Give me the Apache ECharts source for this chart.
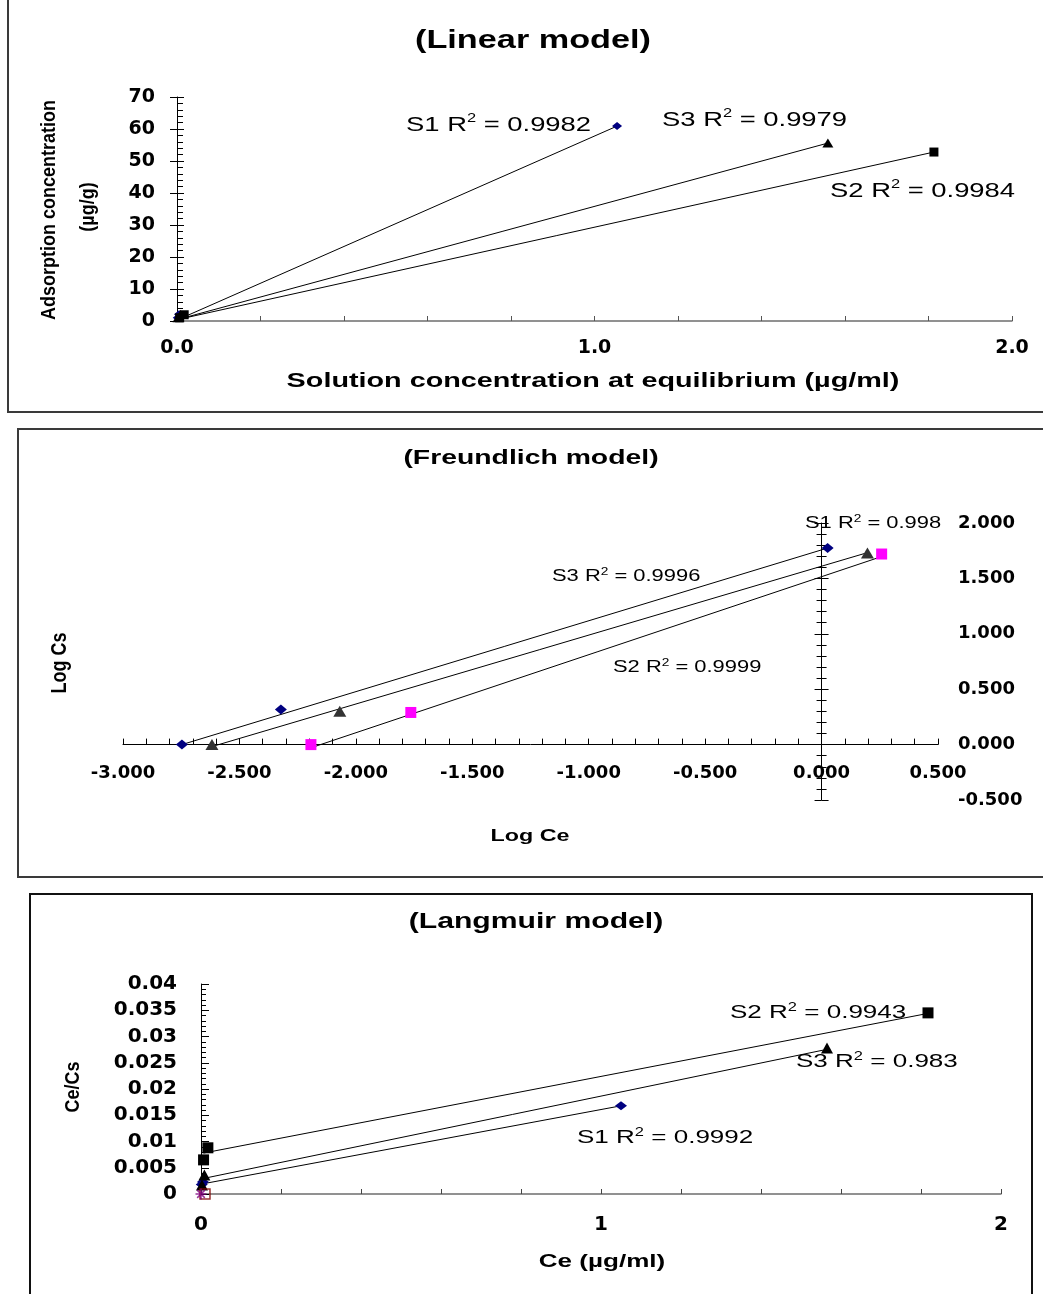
<!DOCTYPE html>
<html>
<head>
<meta charset="utf-8">
<script src="https://cdn.jsdelivr.net/npm/echarts@6/dist/echarts.min.js"></script>
<style>
  html, body { margin: 0; padding: 0; background: #fff; }
  #chart { width: 1043px; height: 1294px; }
</style>
</head>
<body>
<div id="chart"></div>
<script>
// Linear model: Ce (µg/ml) against adsorbed Cs (µg/g)
const linS1Ce = [0.0018, 0.0048, 1.054];
const linS1Cs = [1.0, 2.1, 60.9];
const linS2Ce = [0.0064, 0.0172, 1.813];
const linS2Cs = [1.0, 1.95, 52.8];
const linS3Ce = [0.0024, 0.0085, 1.559];
const linS3Cs = [1.0, 2.0, 55.6];
// trendline ends
const linS1Trend = [[0.0018, 0.4], [1.054, 60.9]];
const linS2Trend = [[0.0064, 0.6], [1.813, 52.8]];
const linS3Trend = [[0.0024, 0.5], [1.559, 55.6]];

// Freundlich model: log Ce against log Cs
const frS1LogCe = [-2.747, -2.322, 0.026];
const frS1LogCs = [0.0, 0.317, 1.774];
const frS2LogCe = [-2.193, -1.764, 0.258];
const frS2LogCs = [0.0, 0.29, 1.72];
const frS3LogCe = [-2.618, -2.069, 0.197];
const frS3LogCs = [0.0, 0.30, 1.73];
const frS1Trend = [[-2.747, 0.0], [0.026, 1.774]];
const frS2Trend = [[-2.19, -0.027], [0.262, 1.70]];
const frS3Trend = [[-2.618, -0.018], [0.193, 1.73]];

// Langmuir model: Ce against Ce/Cs
const lgS1Ce = [0.0018, 0.0048, 1.05];
const lgS1Ratio = [0.0018, 0.0023, 0.0168];
const lgS2Ce = [0.0064, 0.0172, 1.8175];
const lgS2Ratio = [0.0065, 0.0088, 0.0345];
const lgS3Ce = [0.0024, 0.0085, 1.565];
const lgS3Ratio = [0.0017, 0.0036, 0.0278];
const lgS1Trend = [[0.0018, 0.0019], [1.05, 0.0168]];
const lgS2Trend = [[0.0064, 0.0078], [1.8175, 0.0344]];
const lgS3Trend = [[0.0024, 0.0029], [1.555, 0.0274]];
const lgStray1 = [[0, 0]];
const lgStray2 = [[0.01, 0]];

// R² annotations
const linR2 = ['0.9982', '0.9984', '0.9979'];
const frR2 = ['0.998', '0.9999', '0.9996'];
const lgR2 = ['0.9992', '0.9943', '0.983'];

// axis ranges
const frX = { min: -3, max: 0.5 };
const frY = { min: -0.5, max: 2 };

const NAVY = '#000080';
const TXT = 'Liberation Sans';
const W = 1043;

// Freundlich grid, axes cross at (0, 0) inside it
const frGrid = { left: 123, right: 105, top: 523, height: 277 };
const frWidth = W - frGrid.left - frGrid.right;
const frYAxisShift = -(0 - frX.min) / (frX.max - frX.min) * frWidth;
const frXAxisShift = -(0 - frY.min) / (frY.max - frY.min) * frGrid.height;

const pts = (xs, ys) => xs.map((x, i) => [x, ys[i]]);

function scatter(name, data, xi, yi, symbol, size, color) {
    return {
        name, type: 'scatter', xAxisIndex: xi, yAxisIndex: yi, data,
        symbol, symbolSize: size, clip: false, z: 3,
        itemStyle: { color, opacity: 1 }
    };
}

function trend(name, data, xi, yi) {
    return {
        name, type: 'line', xAxisIndex: xi, yAxisIndex: yi, data,
        symbol: 'none', z: 2, silent: true,
        lineStyle: { color: '#000', width: 1 }
    };
}

function tickFont(size) {
    return { fontFamily: 'DejaVu Sans', fontWeight: 'bold', fontSize: size, color: '#000' };
}

const whole = (digits) => (v) => Math.abs(v - Math.round(v)) < 1e-6 ? Math.round(v).toFixed(digits) : '';

// text drawn the way the original (horizontally stretched) picture shows it
function text(str, x, y, size, opts) {
    opts = opts || {};
    return {
        type: 'text', x, y,
        rotation: opts.rotation || 0,
        scaleX: opts.scaleX || 1,
        scaleY: opts.scaleY || 1,
        silent: true,
        style: {
            text: str,
            fill: '#000',
            fontFamily: TXT,
            fontSize: size,
            fontWeight: opts.weight || 'normal',
            align: opts.align || 'center',
            verticalAlign: 'middle',
            lineHeight: Math.round(size * 1.2),
            rich: {
                sup: {
                    fontFamily: TXT, fontSize: Math.round(size * 0.62),
                    lineHeight: Math.round(size * 0.62), verticalAlign: 'top'
                }
            }
        }
    };
}

function r2(series, value, x, y, size) {
    return text(series + ' R{sup|2} = ' + value, x, y, size, { align: 'left', scaleX: 1.37 });
}

function frame(x, y, w, h, color) {
    return {
        type: 'rect', silent: true, z: -1,
        shape: { x, y, width: w, height: h },
        style: { fill: 'none', stroke: color, lineWidth: 2 }
    };
}

const chart = echarts.init(document.getElementById('chart'), null, { renderer: 'canvas' });

const noSplit = { show: false };

chart.setOption({
    animation: false,
    backgroundColor: '#fff',
    grid: [
        { left: 177, right: 31, top: 97, height: 224, outerBoundsMode: 'none' },
        Object.assign({ outerBoundsMode: 'none' }, frGrid),
        { left: 201, right: 42, top: 984, height: 210, outerBoundsMode: 'none' }
    ],
    xAxis: [
        {
            gridIndex: 0, type: 'value', min: 0, max: 2, interval: 0.2,
            axisLine: { show: true, onZero: false, lineStyle: { color: '#6e6e6e', width: 1.5 } },
            axisTick: { show: true, inside: true, length: 5, lineStyle: { color: '#555' } },
            axisLabel: Object.assign({ margin: 18, formatter: whole(1), showMinLabel: true, showMaxLabel: true, hideOverlap: false }, tickFont(19)),
            splitLine: noSplit
        },
        {
            gridIndex: 1, type: 'value', min: frX.min, max: frX.max, interval: 0.5,
            position: 'bottom', offset: frXAxisShift,
            axisLine: { show: true, onZero: false, lineStyle: { color: '#000', width: 1 } },
            axisTick: { show: true, inside: true, length: 6, lineStyle: { color: '#000' } },
            minorTick: { show: true, splitNumber: 5, length: 6, lineStyle: { color: '#000' } },
            axisLabel: Object.assign({ margin: 20, formatter: (v) => v.toFixed(3), showMinLabel: true, showMaxLabel: true, hideOverlap: false }, tickFont(18)),
            splitLine: noSplit
        },
        {
            gridIndex: 2, type: 'value', min: 0, max: 2, interval: 0.2,
            axisLine: { show: true, onZero: false, lineStyle: { color: '#6e6e6e', width: 1.5 } },
            axisTick: { show: true, inside: true, length: 5, lineStyle: { color: '#444' } },
            axisLabel: Object.assign({ margin: 21, formatter: whole(0), showMinLabel: true, showMaxLabel: true, hideOverlap: false }, tickFont(20)),
            splitLine: noSplit
        }
    ],
    yAxis: [
        // linear model
        {
            gridIndex: 0, type: 'value', position: 'left', min: 0, max: 70, interval: 10,
            axisLine: { show: true, onZero: false, lineStyle: { color: '#000', width: 1 } },
            axisTick: { show: true, length: 7, lineStyle: { color: '#000' } },
            axisLabel: Object.assign({ margin: 22, showMinLabel: true, showMaxLabel: true, hideOverlap: false }, tickFont(19)),
            splitLine: noSplit
        },
        {
            gridIndex: 0, type: 'value', position: 'left', min: 0, max: 70, interval: 10,
            axisLine: { show: false, onZero: false },
            axisTick: { show: true, inside: true, length: 7, lineStyle: { color: '#000' } },
            minorTick: { show: true, splitNumber: 5, length: 6, lineStyle: { color: '#000' } },
            axisLabel: { show: false },
            splitLine: noSplit
        },
        // freundlich model: axis crosses at log Ce = 0, labels sit at the right
        {
            gridIndex: 1, type: 'value', position: 'left', offset: frYAxisShift,
            min: frY.min, max: frY.max, interval: 0.5,
            axisLine: { show: true, onZero: false, lineStyle: { color: '#000', width: 1 } },
            axisTick: { show: true, length: 7, lineStyle: { color: '#000' } },
            minorTick: { show: true, splitNumber: 5, length: 5, lineStyle: { color: '#000' } },
            axisLabel: { show: false },
            splitLine: noSplit
        },
        {
            gridIndex: 1, type: 'value', position: 'left', offset: frYAxisShift,
            min: frY.min, max: frY.max, interval: 0.5,
            axisLine: { show: false, onZero: false },
            axisTick: { show: true, inside: true, length: 7, lineStyle: { color: '#000' } },
            minorTick: { show: true, splitNumber: 5, length: 5, lineStyle: { color: '#000' } },
            axisLabel: { show: false },
            splitLine: noSplit
        },
        {
            gridIndex: 1, type: 'value', position: 'right', min: frY.min, max: frY.max, interval: 0.5,
            axisLine: { show: false, onZero: false },
            axisTick: { show: false },
            axisLabel: Object.assign({ margin: 20, formatter: (v) => v.toFixed(3), showMinLabel: true, showMaxLabel: true, hideOverlap: false }, tickFont(18)),
            splitLine: noSplit
        },
        // langmuir model
        {
            gridIndex: 2, type: 'value', position: 'left', min: 0, max: 0.04, interval: 0.005,
            axisLine: { show: true, onZero: false, lineStyle: { color: '#000', width: 1 } },
            axisTick: { show: true, inside: true, length: 8, lineStyle: { color: '#000' } },
            minorTick: { show: true, splitNumber: 5, length: 5, lineStyle: { color: '#000' } },
            axisLabel: Object.assign({ margin: 24, formatter: (v) => String(+v.toFixed(3)), showMinLabel: true, showMaxLabel: true, hideOverlap: false }, tickFont(20)),
            splitLine: noSplit
        }
    ],
    series: [
        trend('S1 trend', linS1Trend, 0, 0),
        trend('S2 trend', linS2Trend, 0, 0),
        trend('S3 trend', linS3Trend, 0, 0),
        scatter('S1', pts(linS1Ce, linS1Cs), 0, 0, 'diamond', [10, 8], NAVY),
        scatter('S2', pts(linS2Ce, linS2Cs), 0, 0, 'rect', 9, '#000'),
        scatter('S3', pts(linS3Ce, linS3Cs), 0, 0, 'triangle', [11, 9], '#000'),

        trend('S1 trend', frS1Trend, 1, 2),
        trend('S2 trend', frS2Trend, 1, 2),
        trend('S3 trend', frS3Trend, 1, 2),
        scatter('S1', pts(frS1LogCe, frS1LogCs), 1, 2, 'diamond', [12, 10], NAVY),
        scatter('S2', pts(frS2LogCe, frS2LogCs), 1, 2, 'rect', 11, '#ff00ff'),
        scatter('S3', pts(frS3LogCe, frS3LogCs), 1, 2, 'triangle', [13, 11], '#333333'),

        trend('S1 trend', lgS1Trend, 2, 5),
        trend('S2 trend', lgS2Trend, 2, 5),
        trend('S3 trend', lgS3Trend, 2, 5),
        scatter('S1', pts(lgS1Ce, lgS1Ratio), 2, 5, 'diamond', [12, 9], NAVY),
        scatter('S2', pts(lgS2Ce, lgS2Ratio), 2, 5, 'rect', 11, '#000'),
        scatter('S3', pts(lgS3Ce, lgS3Ratio), 2, 5, 'triangle', [12, 11], '#000'),
        {
            name: 'S4', type: 'scatter', xAxisIndex: 2, yAxisIndex: 5, data: lgStray1, clip: false, z: 4,
            symbol: 'path://M5 0L5 10M0 5L10 5M1.5 1.5L8.5 8.5M8.5 1.5L1.5 8.5', symbolSize: 11,
            itemStyle: { color: 'none', borderColor: '#800080', borderWidth: 1.5 }
        },
        {
            name: 'S5', type: 'scatter', xAxisIndex: 2, yAxisIndex: 5, data: lgStray2, clip: false, z: 3,
            symbol: 'rect', symbolSize: 10,
            itemStyle: { color: 'none', borderColor: '#800000', borderWidth: 1.5 }
        }
    ],
    graphic: [
        frame(8, -1, 1100, 413, '#3a3a3a'),
        frame(18, 429, 1100, 448, '#3a3a3a'),
        frame(30, 894, 1002, 500, '#111'),

        text('(Linear model)', 533, 41, 25, { weight: 'bold', scaleX: 1.37 }),
        text('Solution concentration at equilibrium (µg/ml)', 593, 381, 21, { weight: 'bold', scaleX: 1.37 }),
        text('Adsorption concentration', 49, 210, 18, { weight: 'bold', rotation: Math.PI / 2, scaleY: 1.15 }),
        text('(µg/g)', 88, 207, 18, { weight: 'bold', rotation: Math.PI / 2, scaleY: 1.15 }),
        r2('S1', linR2[0], 406, 125, 20),
        r2('S3', linR2[2], 662, 120, 20),
        r2('S2', linR2[1], 830, 191, 20),

        text('(Freundlich model)', 531, 458, 21, { weight: 'bold', scaleX: 1.35 }),
        text('Log Ce', 530, 836, 17, { weight: 'bold', scaleX: 1.37 }),
        text('Log Cs', 60, 663, 18, { weight: 'bold', rotation: Math.PI / 2, scaleY: 1.2 }),
        r2('S1', frR2[0], 805, 524, 16),
        r2('S3', frR2[2], 552, 577, 16),
        r2('S2', frR2[1], 613, 668, 16),

        text('(Langmuir model)', 536, 922, 22, { weight: 'bold', scaleX: 1.37 }),
        text('Ce (µg/ml)', 602, 1262, 19, { weight: 'bold', scaleX: 1.37 }),
        text('Ce/Cs', 73, 1087, 18, { weight: 'bold', rotation: Math.PI / 2, scaleY: 1.15 }),
        r2('S2', lgR2[1], 730, 1013, 19),
        r2('S3', lgR2[2], 796, 1062, 19),
        r2('S1', lgR2[0], 577, 1138, 19)
    ]
});
</script>
</body>
</html>
